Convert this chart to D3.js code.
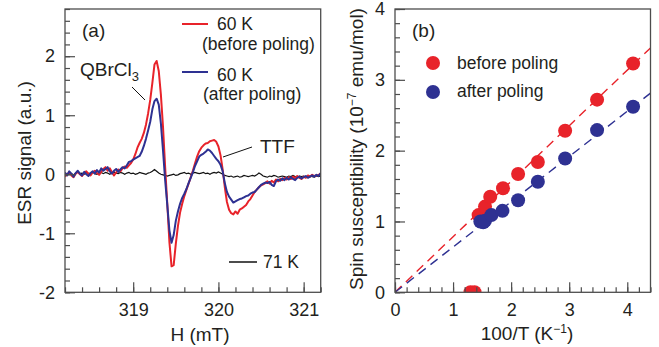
<!DOCTYPE html>
<html><head><meta charset="utf-8">
<script src="https://cdn.jsdelivr.net/npm/d3@7"></script>
<style>
body{margin:0;background:#fff;}
svg{display:block;font-family:"Liberation Sans",Arial,sans-serif;}
</style></head><body>
<svg id="c" width="659" height="347"></svg>
<script>
// ---------- Panel (a): ESR spectra ----------
const fieldH = [
318.200,318.225,318.250,318.275,318.300,318.325,318.350,318.375,318.400,318.425,
318.450,318.475,318.500,318.525,318.550,318.575,318.600,318.625,318.650,318.675,
318.700,318.725,318.750,318.775,318.800,318.825,318.850,318.875,318.900,318.925,
318.950,318.975,319.000,319.025,319.050,319.075,319.100,319.125,319.150,319.175,
319.200,319.225,319.250,319.275,319.300,319.325,319.350,319.375,319.400,319.425,
319.450,319.475,319.500,319.525,319.550,319.575,319.600,319.625,319.650,319.675,
319.700,319.725,319.750,319.775,319.800,319.825,319.850,319.875,319.900,319.925,
319.950,319.975,320.000,320.025,320.050,320.075,320.100,320.125,320.150,320.175,
320.200,320.225,320.250,320.275,320.300,320.325,320.350,320.375,320.400,320.425,
320.450,320.475,320.500,320.525,320.550,320.575,320.600,320.625,320.650,320.675,
320.700,320.725,320.750,320.775,320.800,320.825,320.850,320.875,320.900,320.925,
320.950,320.975,321.000,321.025,321.050,321.075,321.100,321.125,321.150,321.175,
321.200];
const esrBefore = [
-0.04,0.00,0.03,-0.02,-0.05,0.01,0.04,0.00,-0.03,0.02,
0.05,0.01,-0.02,0.03,0.06,0.02,-0.01,0.04,0.09,0.12,
0.06,0.10,0.04,-0.02,0.03,0.08,0.05,0.10,0.13,0.11,
0.15,0.19,0.25,0.34,0.45,0.53,0.60,0.70,0.84,1.03,
1.26,1.55,1.86,1.92,1.75,1.35,0.80,0.12,-0.50,-1.15,
-1.56,-1.54,-1.18,-0.88,-0.65,-0.50,-0.37,-0.26,-0.16,-0.05,
0.06,0.18,0.30,0.39,0.45,0.49,0.52,0.53,0.56,0.57,
0.58,0.55,0.47,0.32,0.08,-0.22,-0.47,-0.60,-0.66,-0.68,
-0.63,-0.67,-0.60,-0.58,-0.55,-0.52,-0.46,-0.42,-0.36,-0.30,
-0.26,-0.22,-0.19,-0.17,-0.15,-0.12,-0.16,-0.11,-0.14,-0.09,
-0.12,-0.08,-0.10,-0.06,-0.09,-0.05,-0.08,-0.04,-0.07,-0.03,
-0.06,-0.08,-0.04,-0.06,-0.02,-0.04,-0.01,-0.03,-0.02,-0.01,
0.01];
const esrAfter = [
0.03,-0.02,0.05,0.01,-0.04,0.02,0.06,0.01,-0.02,0.04,
0.00,-0.03,0.02,0.05,0.01,0.07,0.03,0.10,0.06,0.09,
0.12,0.05,0.01,0.06,0.09,0.04,0.08,0.12,0.10,0.15,
0.21,0.22,0.25,0.27,0.29,0.31,0.38,0.48,0.60,0.74,
0.89,1.10,1.24,1.28,1.18,0.86,0.40,-0.10,-0.52,-0.95,
-1.16,-1.03,-0.79,-0.63,-0.50,-0.40,-0.33,-0.25,-0.15,-0.06,
0.03,0.14,0.22,0.30,0.33,0.35,0.38,0.42,0.40,0.36,
0.31,0.26,0.22,0.16,0.05,-0.15,-0.30,-0.38,-0.43,-0.48,
-0.46,-0.44,-0.42,-0.41,-0.39,-0.37,-0.36,-0.33,-0.31,-0.30,
-0.26,-0.22,-0.18,-0.16,-0.14,-0.15,-0.13,-0.18,-0.20,-0.12,
-0.09,-0.11,-0.07,-0.10,-0.06,-0.09,-0.05,-0.08,-0.10,-0.06,
-0.04,-0.07,-0.05,-0.03,-0.06,-0.04,-0.02,-0.04,-0.01,-0.03,
0.02];
const esr71K = [
0.02,0.00,0.03,0.01,-0.01,0.02,0.04,0.01,0.02,0.00,
0.03,0.01,0.02,0.04,0.01,0.00,0.02,0.03,0.01,0.03,
0.02,0.00,0.02,0.04,0.02,0.01,0.03,0.02,0.00,0.02,
0.03,0.01,0.02,0.00,0.01,0.03,0.02,0.01,0.00,0.02,
0.03,0.05,0.08,0.05,0.02,0.00,-0.01,-0.02,-0.03,-0.02,
-0.01,0.00,-0.02,-0.01,0.01,0.02,0.03,0.01,0.02,0.00,
0.02,0.03,0.02,0.01,0.02,0.03,0.01,0.02,0.00,0.02,
0.03,0.02,0.04,0.02,0.00,-0.02,-0.03,-0.04,-0.03,-0.05,
-0.04,-0.03,-0.05,-0.04,-0.02,-0.03,-0.04,-0.03,-0.02,-0.03,
-0.01,0.02,0.00,-0.03,-0.04,-0.05,-0.03,-0.04,-0.02,-0.03,
-0.05,-0.04,-0.03,-0.04,-0.05,-0.03,-0.04,-0.02,-0.04,-0.05,
-0.03,-0.04,-0.03,-0.05,-0.04,-0.03,-0.04,-0.05,-0.03,-0.04,
-0.03];
const esrXTicks = [319, 320, 321];
const esrYTicks = [-2, -1, 0, 1, 2];

// ---------- Panel (b): spin susceptibility ----------
const invTBefore = [1.30, 1.37, 1.44, 1.55, 1.64, 1.86, 2.12, 2.46, 2.93, 3.48, 4.10];
const chiBefore  = [0.00, 0.00, 1.09, 1.21, 1.35, 1.47, 1.67, 1.84, 2.28, 2.72, 3.23];
const invTAfter  = [1.47, 1.52, 1.55, 1.66, 1.85, 2.12, 2.46, 2.93, 3.48, 4.10];
const chiAfter   = [1.00, 0.99, 1.01, 1.09, 1.15, 1.30, 1.56, 1.89, 2.29, 2.62];
const fitSlopes  = [0.784, 0.639]; // before, after
const chiXTicks = [0, 1, 2, 3, 4];
const chiYTicks = [0, 1, 2, 3, 4];

const RED = "#e8232a", BLUE = "#2e3192", FRAME = "#4d4d4d", TXT = "#231f20";

const svg = d3.select("#c");
const A = {l:65, r:320.7, t:9, b:292.3};
const B = {l:395, r:650.5, t:9, b:292.3};
const xA = d3.scaleLinear().domain([318.2, 321.2]).range([A.l, A.r]);
const yA = d3.scaleLinear().domain([-2, 2.8]).range([A.b, A.t]);
const xB = d3.scaleLinear().domain([0, 4.4]).range([B.l, B.r]);
const yB = d3.scaleLinear().domain([0, 4]).range([B.b, B.t]);

const minorRange = (a, b, s) => d3.range(Math.round((b - a) / s) + 1).map(i => +(a + i * s).toFixed(4));

function drawAxes(P, xs, ys, xMaj, xMin, yMaj, yMin, id) {
  const g = svg.append("g");
  const style = sel => {
    sel.select(".domain").remove();
    sel.selectAll("line").attr("stroke", FRAME).attr("stroke-width", 1.2);
    sel.selectAll("text").attr("fill", TXT).style("font-size", "18px").style("font-family", '"Liberation Sans", Arial, sans-serif');
  };
  g.append("g").attr("transform", `translate(0,${P.b})`)
    .call(d3.axisBottom(xs).tickValues(xMin).tickSizeInner(-5).tickSizeOuter(0).tickFormat("")).call(style);
  g.append("g").attr("transform", `translate(0,${P.b})`)
    .call(d3.axisBottom(xs).tickValues(xMaj).tickSizeInner(-10).tickSizeOuter(0).tickPadding(11).tickFormat(d => String(d))).call(style);
  g.append("g").attr("transform", `translate(${P.l},0)`)
    .call(d3.axisLeft(ys).tickValues(yMin).tickSizeInner(-5).tickSizeOuter(0).tickFormat("")).call(style);
  g.append("g").attr("transform", `translate(${P.l},0)`)
    .call(d3.axisLeft(ys).tickValues(yMaj).tickSizeInner(-10).tickSizeOuter(0).tickPadding(10).tickFormat(d => String(d))).call(style);
  svg.append("rect").attr("x", P.l).attr("y", P.t).attr("width", P.r - P.l).attr("height", P.b - P.t)
    .attr("fill", "none").attr("stroke", FRAME).attr("stroke-width", 1.3);
  svg.append("clipPath").attr("id", id).append("rect")
    .attr("x", P.l).attr("y", P.t).attr("width", P.r - P.l).attr("height", P.b - P.t);
}

// ----- Panel (a) -----
const plotA = svg.append("g").attr("clip-path", "url(#clipA)");
const lineA = (vals) => d3.line().x((d, i) => xA(fieldH[i])).y(d => yA(d))(vals);
plotA.append("path").attr("d", lineA(esr71K)).attr("fill", "none").attr("stroke", "#111").attr("stroke-width", 1.2);
plotA.append("path").attr("d", lineA(esrBefore)).attr("fill", "none").attr("stroke", RED).attr("stroke-width", 2).attr("stroke-linejoin", "round");
plotA.append("path").attr("d", lineA(esrAfter)).attr("fill", "none").attr("stroke", BLUE).attr("stroke-width", 2).attr("stroke-linejoin", "round");
drawAxes(A, xA, yA, esrXTicks, minorRange(318.2, 321.2, 0.2), esrYTicks, minorRange(-2, 2.8, 0.2), "clipA");

// ----- Panel (b) -----
const plotB = svg.append("g").attr("clip-path", "url(#clipB)");
const fitColors = [RED, BLUE];
fitSlopes.forEach((s, k) => {
  plotB.append("line").attr("x1", xB(0)).attr("y1", yB(0)).attr("x2", xB(4.4)).attr("y2", yB(s * 4.4))
    .attr("stroke", fitColors[k]).attr("stroke-width", 1.4).attr("stroke-dasharray", "9,6");
});
plotB.selectAll("circle.bef").data(invTBefore).join("circle").attr("class", "bef")
  .attr("cx", d => xB(d)).attr("cy", (d, i) => yB(chiBefore[i])).attr("r", 7).attr("fill", RED);
plotB.selectAll("circle.aft").data(invTAfter).join("circle").attr("class", "aft")
  .attr("cx", d => xB(d)).attr("cy", (d, i) => yB(chiAfter[i])).attr("r", 7).attr("fill", BLUE);
drawAxes(B, xB, yB, chiXTicks, minorRange(0, 4.4, 0.2), chiYTicks, minorRange(0, 4, 0.2), "clipB");

// ----- Texts -----
const T = (x, y, s, size, anchor) => svg.append("text").attr("x", x).attr("y", y).attr("fill", TXT)
  .style("font-size", size + "px").attr("text-anchor", anchor || "start").text(s);

// axis titles
T(200, 341, "H (mT)", 19, "middle");
svg.append("text").attr("transform", "translate(31,153) rotate(-90)").attr("text-anchor", "middle")
  .attr("fill", TXT).style("font-size", "19px").text("ESR signal (a.u.)");
const xt = svg.append("text").attr("x", 527).attr("y", 340).attr("text-anchor", "middle").attr("fill", TXT).style("font-size", "19px");
xt.append("tspan").text("100/T (K");
xt.append("tspan").attr("dy", -7).style("font-size", "12px").text("\u22121");
xt.append("tspan").attr("dy", 7).text(")");
const yt = svg.append("text").attr("transform", "translate(363,149) rotate(-90)").attr("text-anchor", "middle").attr("fill", TXT).style("font-size", "19px");
yt.append("tspan").text("Spin susceptibility (10");
yt.append("tspan").attr("dy", -7).style("font-size", "12px").text("\u22127");
yt.append("tspan").attr("dy", 7).text(" emu/mol)");

// panel labels
T(82, 37, "(a)", 19);
T(412, 37, "(b)", 19);

// panel (a) legend
svg.append("line").attr("x1", 182).attr("x2", 208).attr("y1", 24).attr("y2", 24).attr("stroke", RED).attr("stroke-width", 2);
T(217, 30, "60 K", 17.5);
T(202, 50, "(before poling)", 17.5);
svg.append("line").attr("x1", 182).attr("x2", 208).attr("y1", 72).attr("y2", 72).attr("stroke", BLUE).attr("stroke-width", 2);
T(217, 81, "60 K", 17.5);
T(203, 100, "(after poling)", 17.5);
svg.append("line").attr("x1", 229).attr("x2", 257).attr("y1", 262).attr("y2", 262).attr("stroke", "#111").attr("stroke-width", 1.5);
T(263, 268, "71 K", 17.5);

// annotations
const q = svg.append("text").attr("x", 80).attr("y", 76).attr("fill", TXT).style("font-size", "19px");
q.append("tspan").text("QBrCl");
q.append("tspan").attr("dy", 5).style("font-size", "13px").text("3");
svg.append("line").attr("x1", 132).attr("y1", 87).attr("x2", 145).attr("y2", 100).attr("stroke", "#111").attr("stroke-width", 1);
T(260, 153, "TTF", 19);
svg.append("line").attr("x1", 223).attr("y1", 157).attr("x2", 252).attr("y2", 147).attr("stroke", "#111").attr("stroke-width", 1);

// panel (b) legend
svg.append("circle").attr("cx", 433).attr("cy", 63).attr("r", 7).attr("fill", RED);
T(457, 69, "before poling", 17.5);
svg.append("circle").attr("cx", 433).attr("cy", 92).attr("r", 7).attr("fill", BLUE);
T(457, 97, "after poling", 17.5);
</script>
</body></html>
